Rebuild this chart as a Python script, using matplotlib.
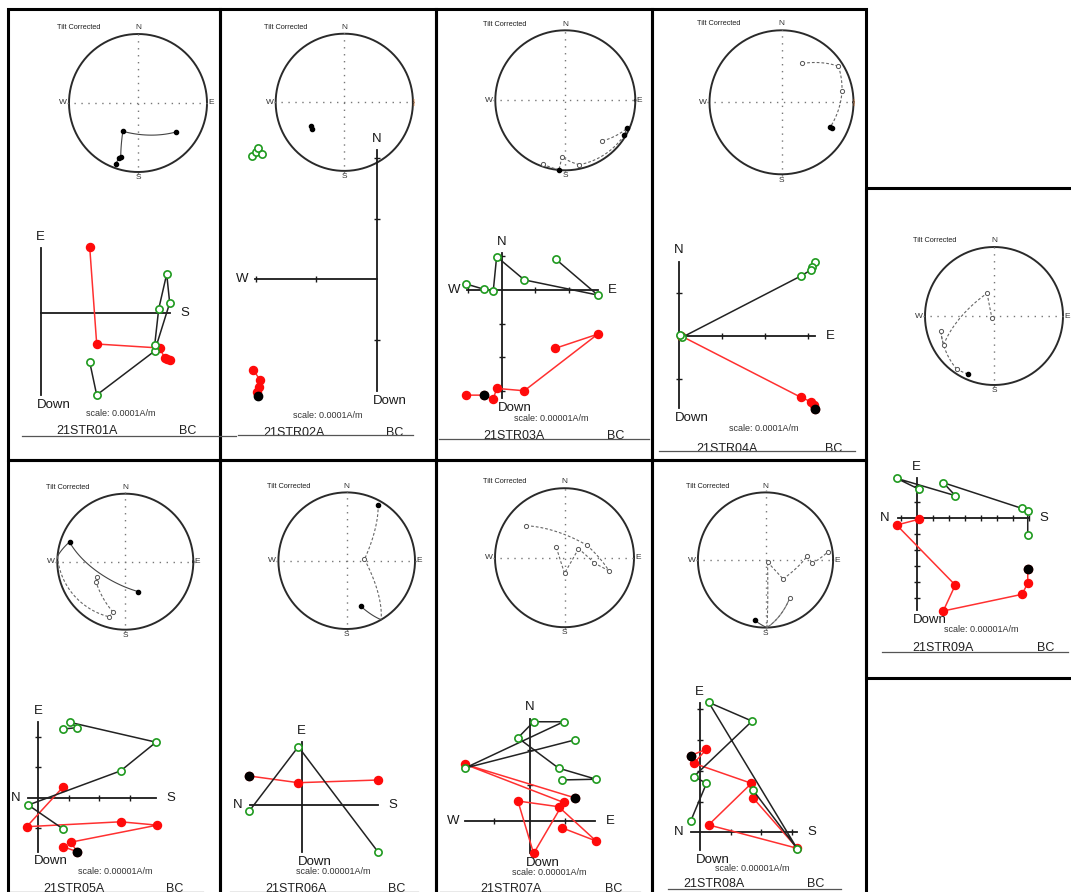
import numpy as np
import matplotlib.pyplot as plt
from matplotlib.patches import Rectangle

W, H = 1071, 892
plt.rcParams['font.family'] = ['Liberation Sans', 'DejaVu Sans']

# ---------------- data ----------------
samples = ['21STR01A', '21STR02A', '21STR03A', '21STR04A', '21STR05A',
           '21STR06A', '21STR07A', '21STR08A', '21STR09A']
scales = ['scale: 0.0001A/m', 'scale: 0.0001A/m', 'scale: 0.00001A/m',
          'scale: 0.0001A/m', 'scale: 0.00001A/m', 'scale: 0.00001A/m',
          'scale: 0.00001A/m', 'scale: 0.00001A/m', 'scale: 0.00001A/m']
site = 'BC'
# zijderveld axis names: top, bottom, left, right
zij_names = [('E', 'Down', None, 'S'), ('N', 'Down', 'W', None),
             ('N', 'Down', 'W', 'E'), ('N', 'Down', None, 'E'),
             ('E', 'Down', 'N', 'S'), ('E', 'Down', 'N', 'S'),
             ('N', 'Down', 'W', 'E'), ('E', 'Down', 'N', 'S'),
             ('E', 'Down', 'N', 'S')]
east_mark = ['E', '|', 'E', '|', 'E', 'E', 'E', 'E', 'E']

# equal-area net points (x, y on unit net, f=lower, o=upper, r=on primitive)
net01 = [(0.55, -0.42, 'f'), (-0.22, -0.41, 'f'), (-0.25, -0.78, 'f'),
         (-0.28, -0.80, 'f'), (-0.32, -0.88, 'f')]
net02 = [(-0.49, -0.35, 'f'), (-0.47, -0.39, 'f')]
net03 = [(0.53, -0.58, 'o'), (0.88, -0.40, 'f'), (0.84, -0.50, 'f'), (0.20, -0.92, 'o'),
         (-0.05, -0.81, 'o'), (-0.09, -0.99, 'f'), (-0.32, -0.91, 'o')]
net04 = [(0.29, 0.54, 'o'), (0.79, 0.50, 'o'), (0.84, 0.16, 'o'), (0.68, -0.34, 'f'),
         (0.70, -0.36, 'f')]
net05 = [(0.19, -0.44, 'f'), (-0.82, 0.29, 'f'), (-0.975, 0.08, 'r'), (-0.24, -0.81, 'o'),
         (-0.18, -0.74, 'o'), (-0.43, -0.30, 'o'), (-0.42, -0.22, 'o')]
net06 = [(0.46, 0.82, 'f'), (0.26, 0.02, 'o'), (0.49, -0.84, 'r'), (0.21, -0.67, 'f')]
net07 = [(-0.55, 0.46, 'o'), (0.32, 0.18, 'o'), (0.64, -0.19, 'o'), (0.43, -0.08, 'o'),
         (0.20, 0.13, 'o'), (0.00, -0.22, 'o'), (-0.12, 0.16, 'o')]
net08 = [(-0.16, -0.89, 'f'), (0.02, -0.97, 'r'), (0.36, -0.56, 'o'), (0.02, -0.97, 'r'),
         (0.03, -0.03, 'o'), (0.26, -0.28, 'o'), (0.62, 0.06, 'o'), (0.69, -0.05, 'o'),
         (0.92, 0.12, 'o')]
net09 = [(-0.38, -0.84, 'f'), (-0.54, -0.77, 'o'), (-0.77, -0.22, 'o'), (-0.73, -0.42, 'o'),
         (-0.10, 0.33, 'o'), (-0.03, -0.03, 'o')]

# zijderveld: horizontal projection (open green) and vertical projection (red)
hor01 = [(4.9, -4.9), (5.6, -8.2), (11.4, -3.8), (12.9, 1.0), (12.6, 3.9), (11.8, 0.4), (11.4, -3.2)]
ver01 = [(4.9, 6.6), (5.6, -3.1), (11.9, -3.5), (12.4, -4.5), (12.9, -4.7), (12.6, -4.6)]
nrm01 = None
hor02 = [(-2.06, 2.04), (-2.00, 2.11), (-1.96, 2.17), (-1.90, 2.07)]
ver02 = [(-2.04, -1.50), (-1.93, -1.66), (-1.94, -1.78), (-1.98, -1.86)]
nrm02 = (-1.97, -1.93)
hor03 = [(1.61, 0.91), (2.85, -0.15), (0.67, 0.30), (-0.15, 0.99), (-0.25, -0.02),
         (-0.52, 0.02), (-1.06, 0.18)]
ver03 = [(1.59, -1.73), (2.85, -1.31), (0.67, -2.99), (-0.15, -2.92), (-0.25, -3.24),
         (-0.52, -3.12), (-1.06, -3.12)]
nrm03 = (-0.52, -3.12)
hor04 = [(3.18, 1.73), (3.11, 1.61), (3.08, 1.54), (2.85, 1.40), (0.08, -0.03), (0.04, 0.03)]
ver04 = [(3.18, -1.70), (3.14, -1.60), (3.08, -1.53), (2.85, -1.43), (0.06, 0.0)]
nrm04 = (3.18, -1.70)
hor05 = [(0.82, 2.25), (1.28, 2.30), (1.04, 2.47), (3.86, 1.82), (2.70, 0.88),
         (-0.33, -0.24), (0.82, -1.03)]
ver05 = [(0.82, -1.61), (1.28, -1.77), (1.06, -1.46), (3.90, -0.90), (2.70, -0.79),
         (-0.38, -0.95), (0.82, 0.36)]
nrm05 = (1.28, -1.77)
hor06 = [(-5.24, -0.60), (-0.34, 5.83), (7.66, -4.73)]
ver06 = [(-5.24, 2.90), (-0.34, 2.23), (7.66, 2.50)]
nrm06 = (-5.24, 2.90)
hor07 = [(1.26, 2.27), (-1.82, 1.48), (0.95, 2.78), (0.11, 2.78), (-0.33, 2.33),
         (0.81, 1.48), (1.86, 1.17), (0.90, 1.15)]
ver07 = [(1.26, 0.65), (-1.82, 1.59), (0.95, 0.52), (0.11, -0.91), (-0.33, 0.56),
         (0.81, 0.40), (1.86, -0.56), (0.90, -0.19)]
nrm07 = (1.26, 0.65)
hor08 = [(-0.29, 0.37), (0.22, 1.59), (-0.19, 1.81), (1.70, 3.61), (0.29, 4.22),
         (3.17, -0.54), (1.73, 1.37)]
ver08 = [(-0.29, 2.49), (0.22, 2.70), (-0.19, 2.24), (1.68, 1.59), (0.29, 0.24),
         (3.17, -0.52), (1.73, 1.12)]
nrm08 = (-0.29, 2.49)
hor09 = [(0.12, 1.79), (-1.25, 2.46), (2.41, 1.38), (1.66, 2.19), (6.58, 0.58),
         (6.94, 0.44), (6.94, -1.08)]
ver09 = [(0.12, -0.10), (-1.25, -0.46), (2.41, -4.21), (1.66, -5.83), (6.58, -4.79),
         (6.94, -4.10), (6.94, -3.21)]
nrm09 = (6.94, -3.21)

nets = [net01, net02, net03, net04, net05, net06, net07, net08, net09]
hors = [hor01, hor02, hor03, hor04, hor05, hor06, hor07, hor08, hor09]
vers = [ver01, ver02, ver03, ver04, ver05, ver06, ver07, ver08, ver09]
nrms = [nrm01, nrm02, nrm03, nrm04, nrm05, nrm06, nrm07, nrm08, nrm09]

# ---------------- layout (pixels) ----------------
lay = [
    dict(box=(8, 9, 220, 460), net=(138, 103, 69), zij=(40.7, 313, 10), ext=(0, 12.9, -8.2, 6.5),
         xt=[], yt=[], name=(87, 431), bc=188, sc=(121, 413), line=(436, 22, 236), mask=None),
    dict(box=(220, 9, 436, 460), net=(344.3, 102.3, 68.6), zij=(376.7, 279.3, 60.5),
         ext=(-2.01, 0, -1.85, 2.13), xt=[-2, -1], yt=[-1, 1, 2], name=(293.5, 432.7), bc=394.7,
         sc=(327.5, 415), line=(435, 238, 413), mask=None),
    dict(box=(436, 9, 652, 460), net=(565.3, 100.3, 70), zij=(501.7, 290, 33.7),
         ext=(-1.04, 2.85, -3.2, 1.1), xt=[-1, 1, 2], yt=[1, -1, -2, -3], name=(513.5, 435.8), bc=616,
         sc=(551.5, 418.3), line=(439.3, 439, 649), mask=(440.3, 458)),
    dict(box=(652, 9, 866, 460), net=(781.5, 102.3, 72), zij=(678.7, 336, 43),
         ext=(0, 3.18, -1.68, 1.73), xt=[1, 2, 3], yt=[1, -1], name=(727, 449), bc=833.7,
         sc=(764, 428.3), line=(450.7, 659, 855), mask=(451.7, 458)),
    dict(box=(8, 460, 220, 900), net=(125.3, 561.7, 68), zij=(38.3, 797.7, 30.5),
         ext=(-0.33, 3.86, -1.77, 2.49), xt=[1, 2, 3], yt=[2, 1, -1], name=(74.3, 889), bc=175,
         sc=(115, 871), line=(891.5, 8, 203), mask=None),
    dict(box=(220, 460, 436, 900), net=(346.7, 560.7, 68.3), zij=(301.7, 805, 10),
         ext=(-5.17, 7.66, -4.73, 6.27), xt=[], yt=[], name=(295.5, 888.5), bc=397,
         sc=(333.3, 871.7), line=(891.5, 230, 418), mask=None),
    dict(box=(436, 460, 652, 900), net=(564.5, 557.7, 69.5), zij=(529.7, 821, 35.7),
         ext=(-1.80, 1.83, -0.91, 2.87), xt=[-1, 1], yt=[1, 2], name=(510.8, 889), bc=614,
         sc=(549.7, 872.5), line=(891.5, 440, 640), mask=None),
    dict(box=(652, 460, 866, 900), net=(765.5, 560, 67.6), zij=(699.7, 832.3, 30.8),
         ext=(-0.27, 3.17, -0.58, 4.19), xt=[1, 2, 3], yt=[1, 2, 3, 4], name=(714, 884), bc=815.7,
         sc=(752.3, 868.3), line=(889, 668, 841), mask=(890, 896)),
    dict(box=(866, 188, 1075, 678), net=(994, 316, 69), zij=(916.7, 517.7, 16),
         ext=(-1.2, 7.0, -5.77, 2.46), xt=[-1, 1, 2, 3, 4, 5, 6, 7], yt=[2, 1, -1, -2, -3, -4, -5],
         name=(943, 647.7), bc=1045.5, sc=(981.3, 630), line=(651.7, 882, 1068), mask=None),
]

fig = plt.figure(figsize=(W / 100, H / 100), dpi=100)
canvas = fig.add_axes([0, 0, 1, 1])
canvas.set_xlim(0, W)
canvas.set_ylim(H, 0)
canvas.axis('off')


def frac(x0, y0, x1, y1):
    return [x0 / W, 1 - y1 / H, (x1 - x0) / W, (y1 - y0) / H]


def sub_axes(box, ox, oy, u):
    x0, y0, x1, y1 = box
    a = fig.add_axes(frac(*box))
    a.set_xlim((x0 - ox) / u, (x1 - ox) / u)
    a.set_ylim((oy - y1) / u, (oy - y0) / u)
    a.axis('off')
    a.patch.set_alpha(0)
    return a


def to_vec(x, y, s):
    r = min(np.hypot(x, y), 1.0)
    th = 2 * np.arcsin(r / np.sqrt(2))
    d = np.arctan2(x, y)
    return np.array([np.sin(th) * np.sin(d), np.sin(th) * np.cos(d), s * np.cos(th)])


def gc_path(p, q, n=40):
    sgn = {'f': 1, 'o': -1, 'r': 0}
    sp, sq = sgn[p[2]], sgn[q[2]]
    if sp * sq < 0:
        sp = sq = -1
    a, b = to_vec(p[0], p[1], sp), to_vec(q[0], q[1], sq)
    t = np.linspace(0, 1, n)[:, None]
    v = (1 - t) * a + t * b
    v /= np.linalg.norm(v, axis=1)[:, None]
    th = np.arccos(np.clip(np.abs(v[:, 2]), 0, 1))
    r = np.sqrt(2) * np.sin(th / 2)
    d = np.arctan2(v[:, 0], v[:, 1])
    return r * np.sin(d), r * np.cos(d)


def draw_net(a, pts, east):
    t = np.linspace(0, 2 * np.pi, 300)
    a.plot(np.cos(t), np.sin(t), color='#2a2a2a', lw=1.4)
    a.plot([-1.03, 1.03], [0, 0], color='#777777', lw=1.0, ls=(0, (1, 4)))
    a.plot([0, 0], [-1.03, 1.03], color='#777777', lw=1.0, ls=(0, (1, 4)))
    a.text(-1.17, 1.09, 'Tilt Corrected', fontsize=5.3, ha='left', va='center', color='#222222')
    a.text(0, 1.09, 'N', fontsize=6, ha='center', va='center', color='#333333')
    a.text(0, -1.08, 'S', fontsize=6, ha='center', va='center', color='#333333')
    a.text(-1.09, 0, 'W', fontsize=6, ha='center', va='center', color='#333333')
    if east == 'E':
        a.text(1.06, 0, 'E', fontsize=6, ha='center', va='center', color='#333333')
    else:
        a.text(1.0, 0, '|', fontsize=6, ha='center', va='center', color='#e07a30')
    for p, q in zip(pts[:-1], pts[1:]):
        xs, ys = gc_path(p, q)
        if 'o' in (p[2], q[2]):
            a.plot(xs, ys, color='#666666', lw=0.8, ls=(0, (2.5, 1.8)))
        else:
            a.plot(xs, ys, color='#444444', lw=0.8)
    for x, y, k in pts:
        if k == 'f':
            a.plot(x, y, 'o', ms=3, color='black')
        elif k == 'o':
            a.plot(x, y, 'o', ms=3, mfc='white', mec='#555555', mew=0.7)


def draw_zij(a, L, names, hor, ver, nrm):
    xmin, xmax, ymin, ymax = L['ext']
    a.plot([xmin, xmax], [0, 0], color='#1a1a1a', lw=1.3)
    a.plot([0, 0], [ymin, ymax], color='#1a1a1a', lw=1.3)
    if L['xt']:
        a.plot(L['xt'], np.zeros(len(L['xt'])), ls='none', marker='|', ms=5, mew=1, color='#1a1a1a')
    if L['yt']:
        a.plot(np.zeros(len(L['yt'])), L['yt'], ls='none', marker='_', ms=5, mew=1, color='#1a1a1a')
    top, bot, left, right = names
    kw = dict(textcoords='offset points', fontsize=9.5, color='#1a1a1a', va='center')
    a.annotate(top, (0, ymax), xytext=(0, 8), ha='center', **kw)
    a.annotate(bot, (0, ymin), xytext=(-3, -7), ha='left', **kw)
    if left:
        a.annotate(left, (xmin, 0), xytext=(-9, 0), ha='center', **kw)
    if right:
        a.annotate(right, (xmax, 0), xytext=(10.8, 0), ha='center', **kw)
    vx, vy = zip(*ver)
    hx, hy = zip(*hor)
    a.plot(vx, vy, color='#ff3030', lw=1.1, marker='o', ms=5.8, mfc='#ff0a0a', mec='#ff0a0a')
    a.plot(hx, hy, color='#222222', lw=1.1, marker='o', ms=5.2, mfc='white', mec='#1f9a1f', mew=1.2)
    if nrm is not None:
        a.plot(nrm[0], nrm[1], 'o', ms=6, color='black')


for i, L in enumerate(lay):
    x0, y0, x1, y1 = L['box']
    canvas.add_patch(Rectangle((x0, y0), x1 - x0, y1 - y0, fill=False, ec='black', lw=2.2, zorder=1))
    name_y = L['name'][1]
    canvas.text(L['sc'][0], L['sc'][1], scales[i], fontsize=6.5, ha='center', va='center', color='#333333')
    canvas.text(L['name'][0], name_y, samples[i], fontsize=9, ha='center', va='center', color='#222222')
    canvas.text(L['bc'], name_y, site, fontsize=9, ha='center', va='center', color='#222222')
    ly, lx0, lx1 = L['line']
    canvas.plot([lx0, lx1], [ly, ly], color='#555555', lw=0.9, zorder=4)
    if L['mask']:
        m0, m1 = L['mask']
        canvas.add_patch(Rectangle((lx0, m0), lx1 - lx0, m1 - m0, fc='white', ec='none', zorder=3))

    ncx, ncy, nr = L['net']
    an = sub_axes(L['box'], ncx, ncy, nr)
    draw_net(an, nets[i], east_mark[i])

    ox, oy, u = L['zij']
    az = sub_axes(L['box'], ox, oy, u)
    draw_zij(az, L, zij_names[i], hors[i], vers[i], nrms[i])

fig.savefig('out.png', dpi=100)
